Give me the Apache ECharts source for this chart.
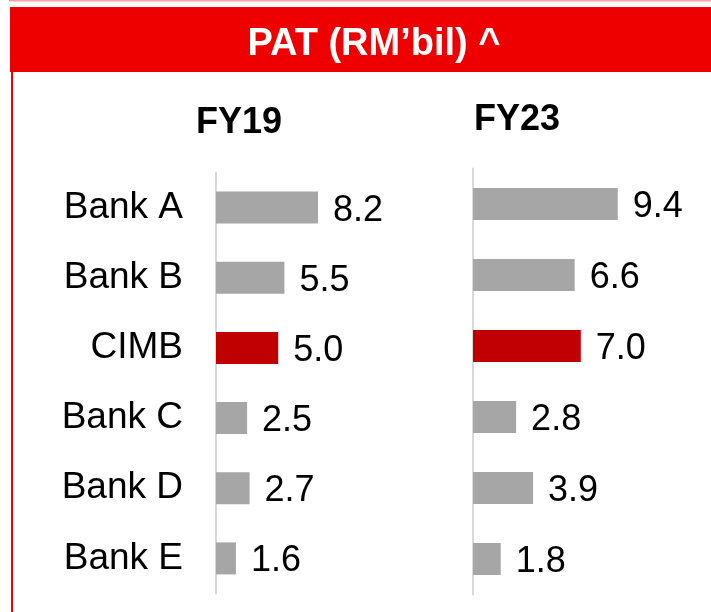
<!DOCTYPE html>
<html>
<head>
<meta charset="utf-8">
<script src="https://cdn.jsdelivr.net/npm/echarts@6/dist/echarts.min.js"></script>
<style>
  html, body { margin: 0; padding: 0; background: #fff; }
  #main { width: 711px; height: 612px; }
</style>
</head>
<body>
<div id="main"></div>
<script>
// 银行名称
var banks = ['Bank A', 'Bank B', 'CIMB', 'Bank C', 'Bank D', 'Bank E'];
// FY19 和 FY23 的 PAT 数据
var fy19 = [8.2, 5.5, 5.0, 2.5, 2.7, 1.6];
var fy23 = [9.4, 6.6, 7.0, 2.8, 3.9, 1.8];
var highlight = 'CIMB';

(function() {
  var grey = '#a6a6a6';
  var red = '#c00000';
  var font = 'Liberation Sans, Arial, sans-serif';
  var myChart = echarts.init(document.getElementById('main'));

  // 柱子颜色
  function barColor(params) {
    return banks[params.dataIndex] === highlight ? red : grey;
  }

  function yAxisOf(gridIndex, showLabel) {
    return {
      type: 'category',
      gridIndex: gridIndex,
      data: banks,
      inverse: true,
      axisTick: { show: false },
      splitLine: { show: false },
      axisLine: { show: true, lineStyle: { color: '#d9d9d9', width: 2 } },
      axisLabel: {
        show: showLabel,
        color: '#000',
        fontSize: 37,
        fontFamily: font,
        margin: 33,
        padding: [6, 0, 0, 0]
      }
    };
  }

  function seriesOf(idx, data) {
    return {
      type: 'bar',
      xAxisIndex: idx,
      yAxisIndex: idx,
      data: data,
      barWidth: 32,
      itemStyle: { color: barColor },
      label: {
        show: true,
        position: 'right',
        distance: 15,
        offset: [0, 3],
        color: '#000',
        fontSize: 36,
        fontFamily: font,
        formatter: function(p) { return p.value.toFixed(1); }
      }
    };
  }

  var option = {
    animation: false,
    title: [
      {
        text: 'PAT (RM’bil) ^',
        left: 369, top: 21, textAlign: 'center',
        textStyle: { color: '#fff', fontSize: 38, fontWeight: 'bold', fontFamily: font }
      },
      {
        text: 'FY19',
        left: 234, top: 100, textAlign: 'center',
        textStyle: { color: '#000', fontSize: 36, fontWeight: 'bold', fontFamily: font }
      },
      {
        text: 'FY23',
        left: 512, top: 97, textAlign: 'center',
        textStyle: { color: '#000', fontSize: 36, fontWeight: 'bold', fontFamily: font }
      }
    ],
    // 外框和标题栏
    graphic: [
      { type: 'rect', z: -1, shape: { x: 9, y: 0, width: 702, height: 1.5 }, style: { fill: '#f7a3a3' } },
      { type: 'rect', z: -1, shape: { x: 10, y: 7, width: 701, height: 65 }, style: { fill: '#ee0000' } },
      { type: 'rect', z: -1, shape: { x: 11, y: 72, width: 2, height: 540 }, style: { fill: '#ee0000' } }
    ],
    grid: [
      { left: 216, top: 172.5, width: 124.4, height: 421 },
      { left: 473, top: 168.5, width: 154, height: 426 }
    ],
    xAxis: [
      { type: 'value', gridIndex: 0, min: 0, max: 10, show: false },
      { type: 'value', gridIndex: 1, min: 0, max: 10, show: false }
    ],
    yAxis: [yAxisOf(0, true), yAxisOf(1, false)],
    series: [seriesOf(0, fy19), seriesOf(1, fy23)]
  };
  myChart.setOption(option);
  window.addEventListener('resize', function() {
    myChart.resize();
  });
})();
</script>
</body>
</html>
